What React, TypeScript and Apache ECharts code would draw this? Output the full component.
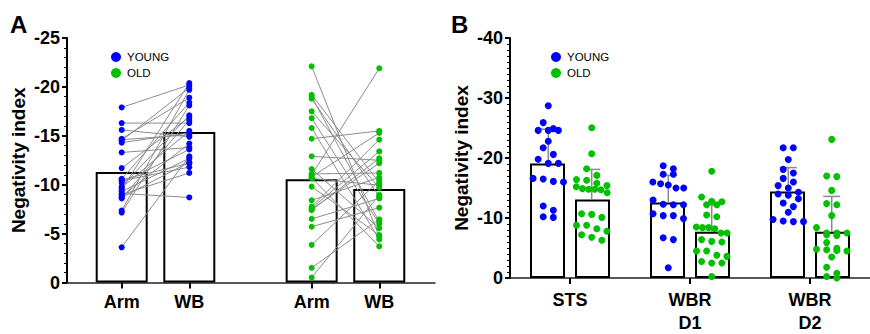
import React, { useEffect, useRef } from "react";
import * as echarts from "echarts";

// ---------- Panel A data ----------
const aCategories = ["Arm", "WB", "Arm", "WB"];
const aMeans = [-11.3, -15.4, -10.55, -9.56];
const youngArm = [-17.9, -16.3, -15.6, -14.7, -14.5, -14.3, -13.3, -11.7, -10.6, -10.5, -10.4, -9.8, -9.7, -9.5, -9.3, -9.1, -8.8, -8.6, -8.7, -7.35, -7.15, -3.6, -14.6, -10.2, -9.0];
const youngWB = [-20.2, -16.3, -14.9, -18.9, -19.9, -15.3, -13.8, -16.9, -18.4, -12.2, -11.8, -17.1, -15.5, -20.4, -12.7, -8.7, -14.2, -16.6, -12.3, -19.7, -18.1, -12.9, -15.1, -13.6, -11.2];
const oldArm = [-22.1, -19.2, -19.0, -18.8, -17.5, -16.8, -15.8, -14.7, -12.9, -11.6, -11.0, -10.8, -10.65, -9.8, -8.4, -7.75, -7.6, -7.4, -6.5, -5.7, -3.85, -1.5, -0.5, -10.7, -11.1, -7.5];
const oldWB = [-4.7, -10.2, -6.2, -8.8, -9.7, -6.0, -4.4, -15.5, -12.5, -5.55, -21.9, -15.3, -9.95, -4.85, -10.75, -14.6, -13.4, -12.7, -8.6, -7.65, -10.4, -6.45, -8.95, -3.7, -11.2, -12.2];

// ---------- Panel B data ----------
const bCategories = ["STS", "WBR\nD1", "WBR\nD2"];
const bMeansYoung = [-19.1, -12.6, -14.4];
const bMeansOld = [-13.1, -7.7, -7.7];
const bSdYoung = [5.7, 4.5, 4.0];
const bSdOld = [5.0, 4.5, 5.9];
const stsYoung = [-28.7, -25.9, -24.6, -24.6, -24.6, -24.9, -22.8, -21.7, -20.6, -19.1, -19.1, -19.8, -16.5, -16.0, -16.1, -16.6, -11.3, -12.0, -10.1, -10.2];
const stsOld = [-25.05, -20.7, -18.2, -16.4, -17.1, -16.3, -15.4, -14.8, -15.2, -15.8, -14.9, -14.8, -14.2, -14.7, -10.6, -10.7, -10.1, -8.8, -8.8, -8.2, -7.2, -7.8, -6.8, -6.3];
const d1Young = [-18.2, -18.7, -17.3, -17.3, -15.7, -16.0, -15.5, -15.0, -15.0, -12.3, -13.0, -12.2, -12.2, -10.4, -10.7, -9.9, -10.4, -6.7, -6.4, -1.7];
const d1Old = [-17.8, -13.5, -12.8, -12.2, -12.2, -12.7, -10.2, -10.5, -8.2, -8.4, -8.4, -8.5, -7.5, -7.5, -6.4, -6.0, -6.1, -4.5, -4.5, -3.6, -3.8, -2.75, -2.5, -2.5, -0.25];
const d2Young = [-21.7, -21.7, -19.75, -17.5, -18.1, -16.6, -16.0, -15.4, -15.0, -14.3, -14.0, -13.8, -13.2, -12.5, -11.9, -10.95, -9.4, -9.75, -9.4, -9.5];
const d2Old = [-23.1, -17.0, -16.9, -14.6, -12.4, -12.2, -10.4, -8.4, -7.2, -7.5, -7.5, -7.5, -7.1, -5.9, -4.8, -4.5, -4.7, -4.6, -4.95, -3.5, -1.8, -0.8, -0.25, 0];
const youngB = [stsYoung, d1Young, d2Young];
const oldB = [stsOld, d1Old, d2Old];

// ---------- layout / style ----------
const BLUE = "#0000ff";
const GREEN = "#00c000";
const FONT = "Liberation Sans";
const A_SLOTS = [0, 1, 2.81, 3.81];
const A_LEFT = 67, A_WIDTH = 368, A_UNIT = 67.6;
const A_MIN = -54.7 / A_UNIT;
const A_MAX = A_MIN + A_WIDTH / A_UNIT;
const B_LEFT = 510, B_WIDTH = 373;
const B_PX_UNIT = B_WIDTH / 3;
const BAR_B = 35;
const GROUP_OFF = 22.5 / B_PX_UNIT;
const ROW_H = 1.1, DOT_SP = 10.5, ROW_MAX = 32;

function swarm(values: number[], center: number): number[][] {
  const sorted = [...values].sort((a, b) => a - b);
  const rows: number[][] = [];
  let cur: number[] = [];
  for (const v of sorted) {
    if (cur.length && Math.abs(v - cur[0]) > ROW_H) { rows.push(cur); cur = []; }
    cur.push(v);
  }
  if (cur.length) rows.push(cur);
  const out: number[][] = [];
  rows.forEach((row) => {
    const n = row.length;
    const sp = n > 1 ? Math.min(DOT_SP, ROW_MAX / (n - 1)) : 0;
    row.forEach((v, k) => out.push([center + ((k - (n - 1) / 2) * sp) / B_PX_UNIT, v]));
  });
  return out;
}

const lineRender = (params: any, api: any) => {
  const p1 = api.coord([api.value(0), api.value(1)]);
  const p2 = api.coord([api.value(2), api.value(3)]);
  return { type: "line", shape: { x1: p1[0], y1: p1[1], x2: p2[0], y2: p2[1] }, style: { stroke: "#8c8c8c", lineWidth: 1 } };
};

const errRender = (params: any, api: any) => {
  const b = api.coord([api.value(0), api.value(1)]);
  const t = api.coord([api.value(0), api.value(2)]);
  const st = { stroke: "#8a8a8a", lineWidth: 1.5 };
  return {
    type: "group",
    children: [
      { type: "line", shape: { x1: b[0], y1: b[1], x2: t[0], y2: t[1] }, style: st },
      { type: "line", shape: { x1: t[0] - 8.5, y1: t[1], x2: t[0] + 8.5, y2: t[1] }, style: st },
    ],
  };
};

export default function App() {
  const ref = useRef<HTMLDivElement>(null);
  useEffect(() => {
    if (!ref.current) return;
    const chart = echarts.init(ref.current, undefined, { renderer: "svg" });
    const labelStyle = { fontFamily: FONT, fontWeight: "bold" as const, fontSize: 18, color: "#000" };
    const yAxisBase = {
      type: "value",
      inverse: true,
      max: 0,
      axisLine: { show: true, onZero: false, lineStyle: { color: "#000", width: 2 } },
      axisTick: { show: true, length: 5, lineStyle: { color: "#000", width: 2 } },
      splitLine: { show: false },
      axisLabel: { ...labelStyle, margin: 7 },
      name: "Negativity index",
      nameLocation: "middle",
      nameGap: 39,
      nameTextStyle: { ...labelStyle, fontSize: 19 },
    };
    const barStyle = { color: "#fff", borderColor: "#000", borderWidth: 2 };
    const option: any = {
      animation: false,
      grid: [
        { left: A_LEFT, top: 38, width: A_WIDTH, height: 244.5 },
        { left: B_LEFT, top: 38, width: B_WIDTH, height: 244.5 },
      ],
      xAxis: [
        {
          type: "value", gridIndex: 0, min: A_MIN, max: A_MAX,
          axisLine: { show: true, onZero: false, lineStyle: { color: "#222", width: 1.5 } },
          axisTick: { show: true, customValues: A_SLOTS, length: 6, lineStyle: { color: "#000", width: 2 } },
          axisLabel: {
            ...labelStyle, margin: 10, customValues: A_SLOTS,
            formatter: (v: number) => {
              const i = A_SLOTS.findIndex((s) => Math.abs(s - v) < 1e-6);
              return i >= 0 ? aCategories[i] : "";
            },
          },
          splitLine: { show: false },
        },
        {
          type: "category", gridIndex: 1, data: bCategories,
          axisLine: { show: true, onZero: false, lineStyle: { color: "#222", width: 1.5 } },
          axisTick: { show: true, alignWithLabel: true, length: 6, lineStyle: { color: "#000", width: 2 } },
          axisLabel: { ...labelStyle, margin: 10, lineHeight: 23 },
        },
        { type: "value", gridIndex: 1, min: -0.5, max: 2.5, show: false, axisLine: { onZero: false } },
      ],
      yAxis: [
        { ...yAxisBase, gridIndex: 0, min: -25, interval: 5, minorTick: { show: true, splitNumber: 5, length: 3, lineStyle: { color: "#000", width: 1 } } },
        { ...yAxisBase, gridIndex: 1, min: -40, interval: 10, minorTick: { show: true, splitNumber: 10, length: 3, lineStyle: { color: "#000", width: 1 } } },
      ],
      legend: [0, 1].map((k) => ({
        left: k === 0 ? 106 : 546, top: 46, orient: "vertical", itemGap: 4,
        itemWidth: 10, itemHeight: 10, icon: "circle", selectedMode: false,
        data: ["YOUNG", "OLD"],
        textStyle: { fontFamily: FONT, fontSize: 11.5, color: "#000", padding: [0, 0, 0, 1] },
      })),
      graphic: [
        { type: "text", left: 10, top: 12, style: { text: "A", font: `bold 24px "${FONT}"`, fill: "#000" } },
        { type: "text", left: 451, top: 12, style: { text: "B", font: `bold 24px "${FONT}"`, fill: "#000" } },
      ],
      series: [
        // Panel A
        {
          type: "bar", xAxisIndex: 0, yAxisIndex: 0, barWidth: 52,
          data: A_SLOTS.map((x, i) => [x, aMeans[i]]), itemStyle: barStyle, z: 1,
        },
        {
          type: "custom", xAxisIndex: 0, yAxisIndex: 0, renderItem: lineRender, encode: { x: [0, 2], y: [1, 3] }, z: 2,
          data: youngArm.map((a, i) => [A_SLOTS[0], a, A_SLOTS[1], youngWB[i]]).concat(
            oldArm.map((a, i) => [A_SLOTS[2], a, A_SLOTS[3], oldWB[i]])),
        },
        {
          name: "YOUNG", type: "scatter", xAxisIndex: 0, yAxisIndex: 0, symbolSize: 6, itemStyle: { color: BLUE, opacity: 1 }, z: 3,
          data: youngArm.map((v) => [A_SLOTS[0], v]).concat(youngWB.map((v) => [A_SLOTS[1], v])),
        },
        {
          name: "OLD", type: "scatter", xAxisIndex: 0, yAxisIndex: 0, symbolSize: 6, itemStyle: { color: GREEN, opacity: 1 }, z: 3,
          data: oldArm.map((v) => [A_SLOTS[2], v]).concat(oldWB.map((v) => [A_SLOTS[3], v])),
        },
        // Panel B
        { type: "bar", xAxisIndex: 1, yAxisIndex: 1, barWidth: BAR_B, barGap: "28.6%", data: bMeansYoung, itemStyle: barStyle, z: 1 },
        { type: "bar", xAxisIndex: 1, yAxisIndex: 1, barWidth: BAR_B, barGap: "28.6%", data: bMeansOld, itemStyle: barStyle, z: 1 },
        {
          type: "custom", xAxisIndex: 2, yAxisIndex: 1, renderItem: errRender, encode: { x: 0, y: [1, 2] }, z: 2,
          data: bMeansYoung.map((m, i) => [i - GROUP_OFF, m, m - bSdYoung[i]]).concat(
            bMeansOld.map((m, i) => [i + GROUP_OFF, m, m - bSdOld[i]])),
        },
        {
          name: "YOUNG", type: "scatter", xAxisIndex: 2, yAxisIndex: 1, symbolSize: 7, itemStyle: { color: BLUE, opacity: 1 }, z: 3,
          data: youngB.flatMap((vals, i) => swarm(vals, i - GROUP_OFF)),
        },
        {
          name: "OLD", type: "scatter", xAxisIndex: 2, yAxisIndex: 1, symbolSize: 7, itemStyle: { color: GREEN, opacity: 1 }, z: 3,
          data: oldB.flatMap((vals, i) => swarm(vals, i + GROUP_OFF)),
        },
      ],
    };
    chart.setOption(option);
    return () => chart.dispose();
  }, []);
  return <div ref={ref} style={{ position: "fixed", left: 0, top: 0, width: 870, height: 334, background: "#fff" }} />;
}
